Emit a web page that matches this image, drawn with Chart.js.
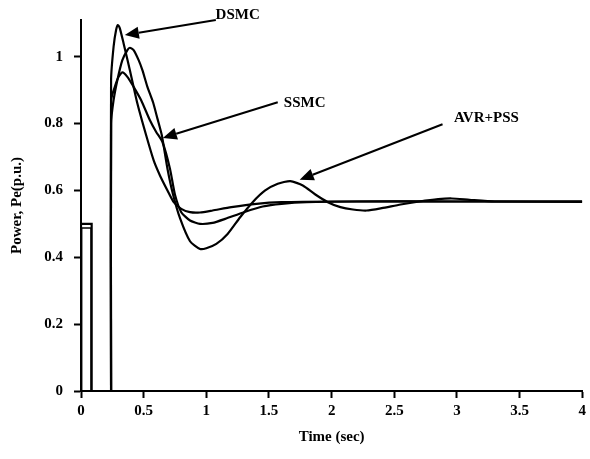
<!DOCTYPE html>
<html>
<head>
<meta charset="utf-8">
<script src="https://cdn.jsdelivr.net/npm/chart.js@4"></script>
<style>
  html, body { margin: 0; padding: 0; background: #fff; }
  #wrap { width: 590px; height: 459px; }
</style>
</head>
<body>
<div id="wrap"><canvas id="chart"></canvas></div>
<script>
// Time (sec) and power Pe (p.u.)

// Pre-fault / fault segment (two traces nearly on top of each other)
const timeFault = [0, 0, 0.085, 0.085, 0.24];
const powerFault = [0, 0.5, 0.5, 0, 0];
const timeFault2 = [0.005, 0.005, 0.08, 0.08];
const powerFault2 = [0, 0.488, 0.488, 0];

// DSMC
const timeDSMC = [0.24, 0.24, 0.26, 0.28, 0.295, 0.31, 0.34, 0.39, 0.45, 0.52, 0.58, 0.63, 0.69, 0.74, 0.8, 0.87, 0.95, 1.05, 1.2, 1.4, 1.6, 2.0, 3.0, 4.0];
const powerDSMC = [0, 0.93, 1.03, 1.08, 1.095, 1.085, 1.04, 0.96, 0.86, 0.765, 0.69, 0.645, 0.6, 0.565, 0.545, 0.535, 0.534, 0.54, 0.55, 0.56, 0.565, 0.567, 0.567, 0.567];

// SSMC
const timeSSMC = [0.24, 0.24, 0.27, 0.3, 0.33, 0.37, 0.42, 0.48, 0.55, 0.6, 0.65, 0.71, 0.75, 0.8, 0.87, 0.95, 1.05, 1.15, 1.3, 1.45, 1.6, 1.8, 2.2, 3.0, 4.0];
const powerSSMC = [0, 0.87, 0.91, 0.94, 0.953, 0.94, 0.91, 0.87, 0.81, 0.775, 0.745, 0.665, 0.587, 0.535, 0.51, 0.5, 0.503, 0.515, 0.535, 0.552, 0.56, 0.565, 0.567, 0.567, 0.567];

// AVR+PSS
const timeAVR = [0.24, 0.24, 0.26, 0.29, 0.33, 0.37, 0.39, 0.42, 0.46, 0.49, 0.53, 0.575, 0.61, 0.645, 0.69, 0.735, 0.79, 0.87, 0.95, 1.0, 1.08, 1.17, 1.27, 1.37, 1.47, 1.57, 1.67, 1.77, 1.87, 1.97, 2.07, 2.17, 2.28, 2.4, 2.55, 2.7, 2.85, 2.96, 3.1, 3.3, 4.0];
const powerAVR = [0, 0.8, 0.87, 0.93, 0.99, 1.02, 1.027, 1.02, 0.99, 0.96, 0.91, 0.864, 0.815, 0.765, 0.665, 0.587, 0.517, 0.448, 0.425, 0.427, 0.44, 0.47, 0.52, 0.565, 0.6, 0.62, 0.628, 0.615, 0.588, 0.565, 0.55, 0.543, 0.54, 0.547, 0.558, 0.567, 0.574, 0.576, 0.572, 0.567, 0.566];

// Annotation labels with arrows: text position, arrow tail, arrow tip (data units)
const noteText = ['DSMC', 'SSMC', 'AVR+PSS'];
const noteAt = [[1.25, 1.125], [1.785, 0.86], [3.235, 0.815]];
const noteTail = [[1.076, 1.11], [1.57, 0.864], [2.885, 0.798]];
const noteTip = [[0.35, 1.065], [0.653, 0.757], [1.745, 0.632]];

const yTicks = [0, 0.2, 0.4, 0.6, 0.8, 1];

function toPoints(xs, ys) {
    return xs.map((x, i) => ({ x: x, y: ys[i] }));
}

const serif = '"Liberation Serif", "DejaVu Serif", serif';

// draws the arrow callouts
const notesPlugin = {
    id: 'notes',
    afterDatasetsDraw(chart) {
        const ctx = chart.ctx;
        const xs = chart.scales.x, ys = chart.scales.y;
        ctx.save();
        ctx.strokeStyle = '#000';
        ctx.fillStyle = '#000';
        ctx.lineWidth = 2;
        noteText.forEach((txt, i) => {
            const x0 = xs.getPixelForValue(noteTail[i][0]);
            const y0 = ys.getPixelForValue(noteTail[i][1]);
            const x1 = xs.getPixelForValue(noteTip[i][0]);
            const y1 = ys.getPixelForValue(noteTip[i][1]);
            const ang = Math.atan2(y1 - y0, x1 - x0);
            const headLen = 14, headW = 6;
            const bx = x1 - headLen * Math.cos(ang);
            const by = y1 - headLen * Math.sin(ang);
            ctx.beginPath();
            ctx.moveTo(x0, y0);
            ctx.lineTo(bx, by);
            ctx.stroke();
            ctx.beginPath();
            ctx.moveTo(x1, y1);
            ctx.lineTo(bx + headW * Math.sin(ang), by - headW * Math.cos(ang));
            ctx.lineTo(bx - headW * Math.sin(ang), by + headW * Math.cos(ang));
            ctx.closePath();
            ctx.fill();

            ctx.font = 'bold 15px ' + serif;
            ctx.textAlign = 'center';
            ctx.textBaseline = 'middle';
            ctx.fillText(txt, xs.getPixelForValue(noteAt[i][0]), ys.getPixelForValue(noteAt[i][1]));
        });
        ctx.restore();
    }
};

const lineStyle = {
    borderColor: '#000',
    borderWidth: 2.2,
    pointRadius: 0,
    tension: 0.2,
    fill: false
};

const plainNum = v => String(Math.round(v * 10) / 10);

new Chart(document.getElementById('chart'), {
    type: 'line',
    data: {
        datasets: [
            Object.assign({ label: 'Fault', data: toPoints(timeFault, powerFault) }, lineStyle, { tension: 0 }),
            Object.assign({ label: 'Fault2', data: toPoints(timeFault2, powerFault2) }, lineStyle, { tension: 0, borderWidth: 1.5 }),
            Object.assign({ label: 'DSMC', data: toPoints(timeDSMC, powerDSMC) }, lineStyle),
            Object.assign({ label: 'SSMC', data: toPoints(timeSSMC, powerSSMC) }, lineStyle),
            Object.assign({ label: 'AVR+PSS', data: toPoints(timeAVR, powerAVR) }, lineStyle)
        ]
    },
    options: {
        responsive: true,
        maintainAspectRatio: false,
        animation: false,
        layout: { padding: { top: 17, right: 7, left: 8, bottom: 13 } },
        plugins: {
            legend: { display: false },
            tooltip: { enabled: false }
        },
        scales: {
            x: {
                type: 'linear',
                min: 0,
                max: 4,
                afterFit: s => { s.height = 55; },
                border: { display: true, color: '#000', width: 2 },
                grid: { drawOnChartArea: false, color: '#000', tickLength: 7, tickWidth: 2 },
                ticks: {
                    stepSize: 0.5,
                    color: '#000',
                    padding: 4,
                    maxRotation: 0,
                    callback: plainNum,
                    font: { family: serif, size: 15, weight: 'bold' }
                },
                title: {
                    display: true,
                    text: 'Time (sec)',
                    color: '#000',
                    padding: { top: 4, bottom: 0 },
                    font: { family: serif, size: 15, weight: 'bold' }
                }
            },
            y: {
                type: 'linear',
                min: 0,
                max: 1.11,
                afterFit: s => { s.width = 73; },
                afterBuildTicks: s => { s.ticks = yTicks.map(v => ({ value: v })); },
                border: { display: true, color: '#000', width: 2 },
                grid: { drawOnChartArea: false, color: '#000', tickLength: 7, tickWidth: 2 },
                ticks: {
                    color: '#000',
                    padding: 11,
                    callback: plainNum,
                    font: { family: serif, size: 15, weight: 'bold' }
                },
                title: {
                    display: true,
                    text: 'Power, Pe(p.u.)',
                    color: '#000',
                    padding: { top: 0, bottom: 4 },
                    font: { family: serif, size: 15, weight: 'bold' }
                }
            }
        }
    },
    plugins: [notesPlugin]
});
</script>
</body>
</html>
